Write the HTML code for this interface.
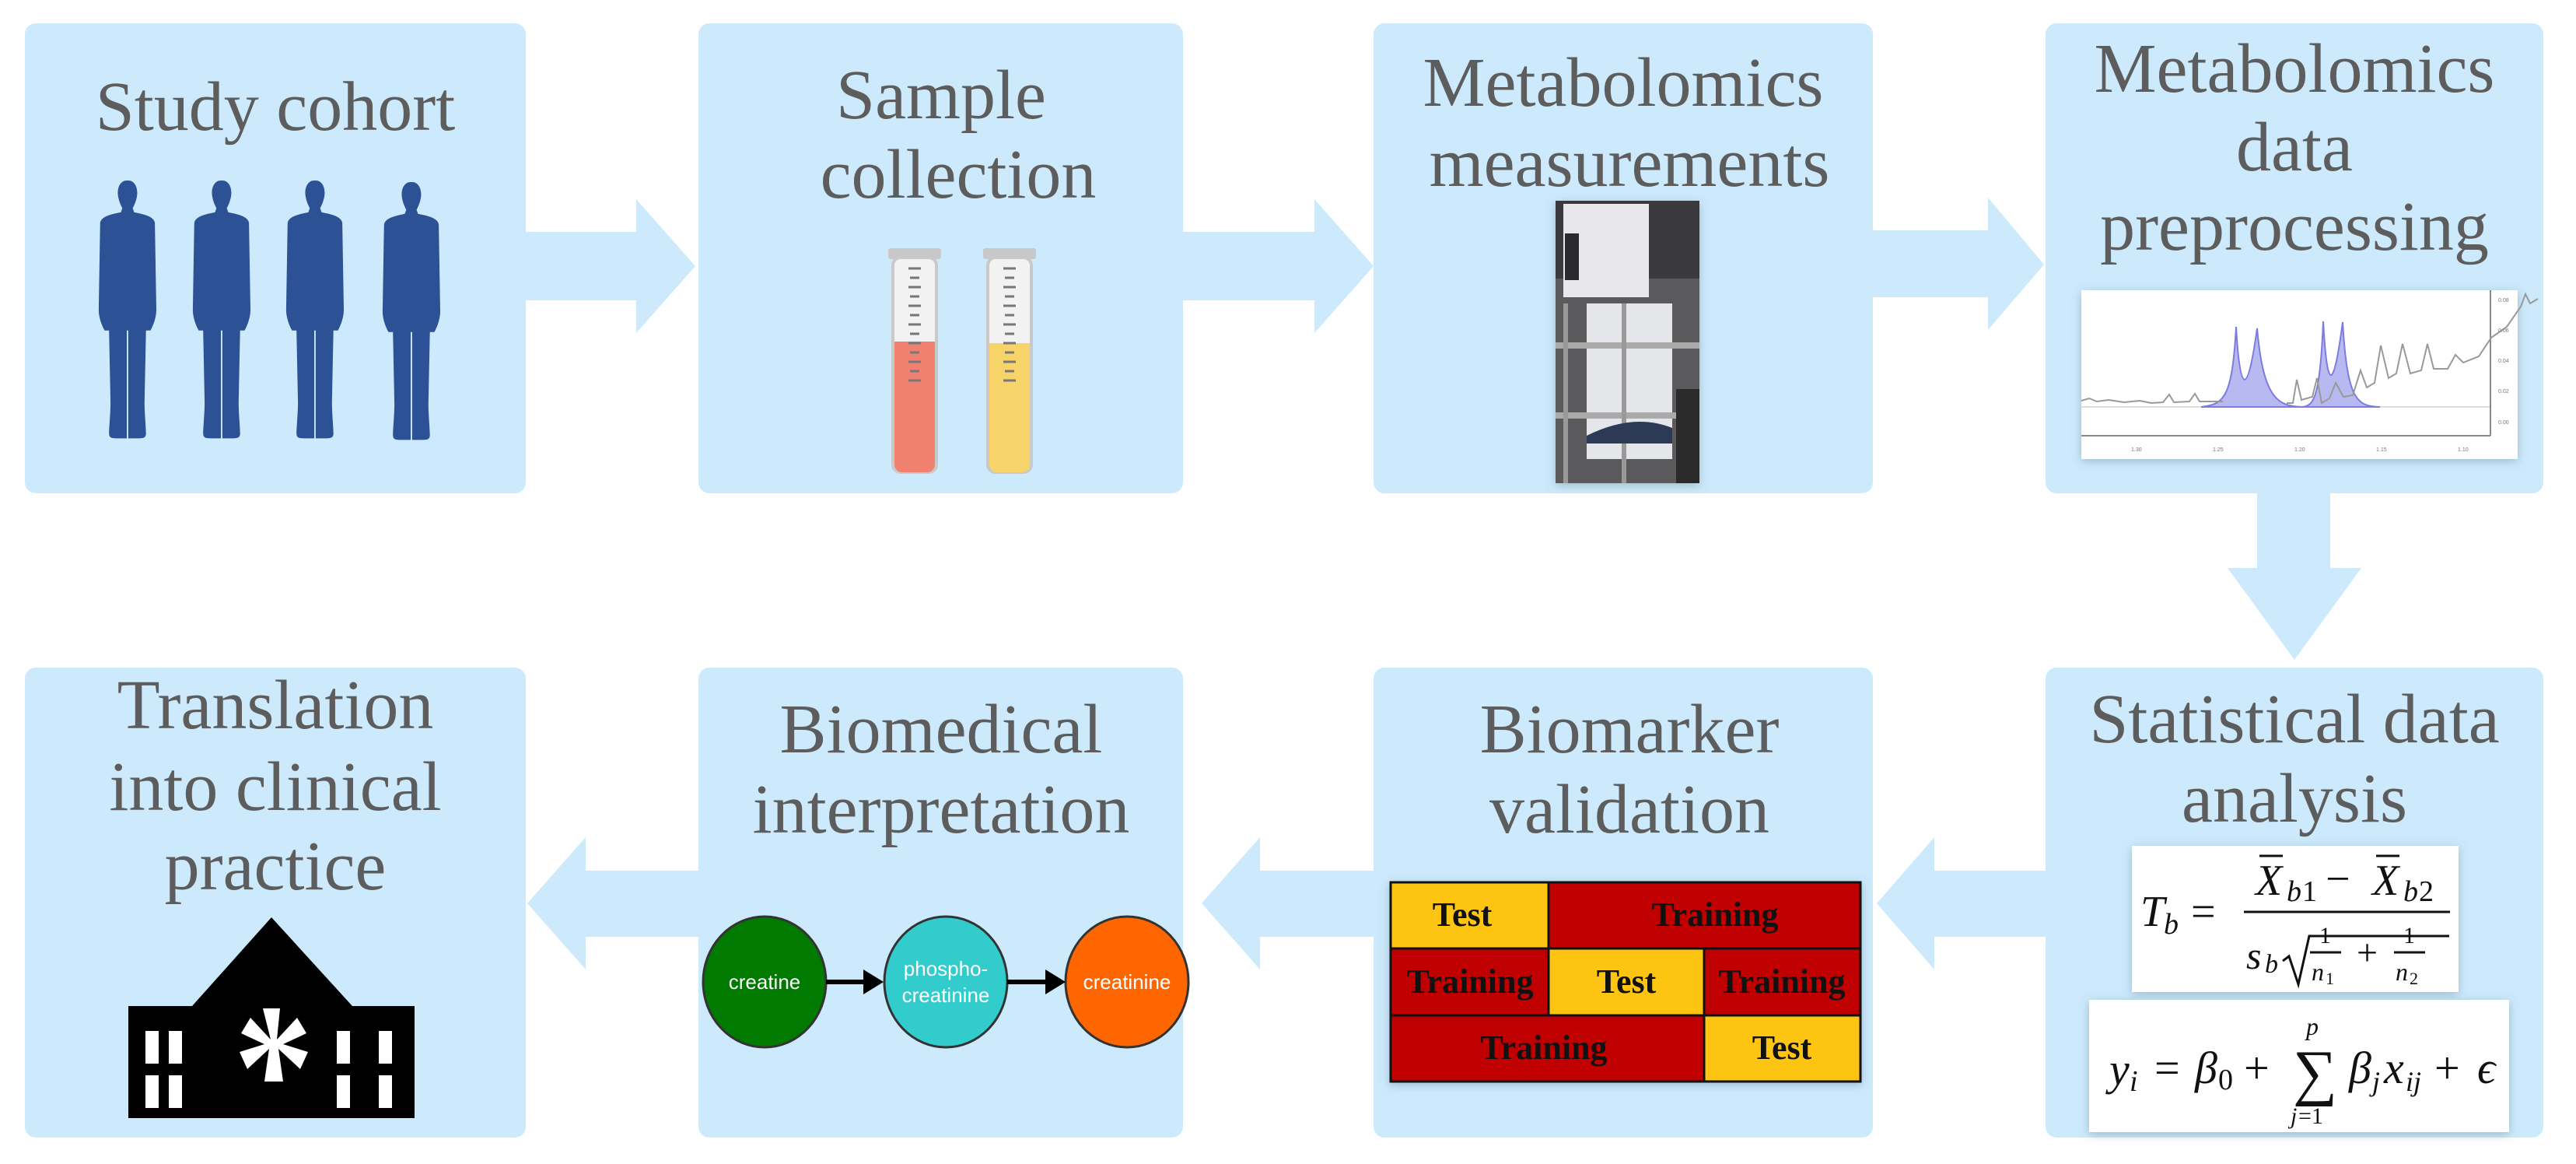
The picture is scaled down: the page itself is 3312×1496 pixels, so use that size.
<!DOCTYPE html>
<html><head><meta charset="utf-8"><style>
html,body{margin:0;padding:0;background:#fff;}
svg{display:block;}
.t{font-family:"Liberation Serif",serif;font-size:90px;fill:#5d5d5d;text-anchor:middle;}
.g{font-family:"Liberation Serif",serif;font-weight:bold;font-size:44px;fill:#111;text-anchor:middle;}
.m{font-family:"Liberation Serif",serif;font-style:italic;fill:#111;}
.c{font-family:"Liberation Sans",sans-serif;font-size:26px;fill:#fff;text-anchor:middle;}
</style></head><body>
<svg width="3312" height="1496" viewBox="0 0 3312 1496" xmlns="http://www.w3.org/2000/svg">
<defs>
<filter id="sh" x="-10%" y="-10%" width="120%" height="120%"><feDropShadow dx="0" dy="3" stdDeviation="6" flood-color="#6a8aa0" flood-opacity="0.5"/></filter>
<g id="person"><path d="M0,0 c-8,0 -13,12 -12,28 c1,12 4,20 6,26 l-2,8 c-14,4 -26,8 -28,20 l-2,170 c0,14 4,30 8,40 l6,0 l2,140 c0,20 -2,50 -2,60 c0,10 4,10 12,10 l12,0 l0,-210 l2,0 l0,210 l12,0 c8,0 12,0 12,-10 c0,-10 -2,-40 -2,-60 l2,-140 l6,0 c4,-10 8,-26 8,-40 l-2,-170 c-2,-12 -14,-16 -28,-20 l-2,-8 c2,-6 5,-14 6,-26 c1,-16 -4,-28 -12,-28 z" fill="#2c5194"/></g>
</defs>
<g fill="#cceafc">
<rect x="32" y="30" width="644" height="604" rx="14"/>
<rect x="898" y="30" width="623" height="604" rx="14"/>
<rect x="1766" y="30" width="642" height="604" rx="14"/>
<rect x="2630" y="30" width="640" height="604" rx="14"/>
<rect x="32" y="858" width="644" height="604" rx="14"/>
<rect x="898" y="858" width="623" height="604" rx="14"/>
<rect x="1766" y="858" width="642" height="604" rx="14"/>
<rect x="2630" y="858" width="640" height="604" rx="14"/>
<polygon points="676,298 818,298 818,256 894,342 818,428 818,386 676,386"/>
<polygon points="1521,298 1690,298 1690,256 1766,342 1690,428 1690,386 1521,386"/>
<polygon points="2408,296 2556,296 2556,254 2628,340 2556,424 2556,382 2408,382"/>
<polygon points="2902,634 2996,634 2996,730 3036,730 2950,848 2864,730 2902,730"/>
<polygon points="898,1119 753,1119 753,1076 678,1161 753,1246 753,1204 898,1204"/>
<polygon points="1766,1119 1620,1119 1620,1076 1545,1161 1620,1246 1620,1204 1766,1204"/>
<polygon points="2630,1119 2487,1119 2487,1076 2413,1161 2487,1246 2487,1204 2630,1204"/>
</g>
<text class="t" x="354" y="167">Study cohort</text>
<text class="t" x="1210" y="152">Sample</text>
<text class="t" x="1232" y="254">collection</text>
<text class="t" x="2087" y="136">Metabolomics</text>
<text class="t" x="2095" y="239">measurements</text>
<text class="t" x="2950" y="118">Metabolomics</text>
<text class="t" x="2950" y="219">data</text>
<text class="t" x="2950" y="321">preprocessing</text>
<text class="t" x="354" y="936">Translation</text>
<text class="t" x="354" y="1041">into clinical</text>
<text class="t" x="354" y="1143">practice</text>
<text class="t" x="1210" y="967">Biomedical</text>
<text class="t" x="1210" y="1070">interpretation</text>
<text class="t" x="2095" y="967">Biomarker</text>
<text class="t" x="2095" y="1070">validation</text>
<text class="t" x="2950" y="954">Statistical data</text>
<text class="t" x="2950" y="1056">analysis</text>
<use href="#person" transform="translate(163,232) scale(0.95,0.66)"/>
<use href="#person" transform="translate(284,232) scale(0.95,0.66)"/>
<use href="#person" transform="translate(404,232) scale(0.95,0.66)"/>
<use href="#person" transform="translate(528,234) scale(0.95,0.66)"/>
<g>
<rect x="1142" y="319" width="68" height="14" rx="3" fill="#c8c8c8"/>
<rect x="1148" y="331" width="56" height="276" rx="10" fill="#f2f2f2" stroke="#c9c9c9" stroke-width="4"/>
<path d="M1150,439 h52 v158 a10,10 0 0 1 -10,10 h-32 a10,10 0 0 1 -10,-10 z" fill="#f08070"/>
<rect x="1264" y="319" width="68" height="14" rx="3" fill="#c8c8c8"/>
<rect x="1270" y="331" width="56" height="276" rx="10" fill="#f2f2f2" stroke="#c9c9c9" stroke-width="4"/>
<path d="M1272,441 h52 v156 a10,10 0 0 1 -10,10 h-32 a10,10 0 0 1 -10,-10 z" fill="#f7d46a"/>
<g stroke="#777" stroke-width="3">
<path d="M1168,345h16M1170,357h12M1168,369h16M1170,381h12M1168,393h16M1170,405h12M1168,417h16M1170,429h12M1168,441h16M1170,453h12M1168,465h16M1170,477h12M1168,489h16"/>
<path d="M1290,345h16M1292,357h12M1290,369h16M1292,381h12M1290,393h16M1292,405h12M1290,417h16M1292,429h12M1290,441h16M1292,453h12M1290,465h16M1292,477h12M1290,489h16"/>
</g>
</g>
<g filter="url(#sh)">
<rect x="2000" y="258" width="185" height="363" fill="#5a5a5c"/>
</g>
<rect x="2000" y="258" width="185" height="100" fill="#3a3a3e"/>
<rect x="2010" y="262" width="110" height="120" fill="#e8e8ea"/>
<rect x="2012" y="300" width="18" height="60" fill="#2a2a30"/>
<rect x="2040" y="390" width="110" height="200" fill="#e4e6ea"/>
<rect x="2000" y="440" width="185" height="8" fill="#aaa"/>
<rect x="2000" y="530" width="185" height="8" fill="#aaa"/>
<rect x="2010" y="390" width="6" height="231" fill="#999"/>
<rect x="2085" y="390" width="6" height="231" fill="#999"/>
<path d="M2040,560 q60,-30 110,-10 v20 h-110 z" fill="#2c3a55"/>
<rect x="2155" y="500" width="30" height="121" fill="#2a2a2a"/>
<rect x="2676" y="373" width="561" height="217" fill="#fff" filter="url(#sh)"/>
<line x1="2676" y1="523" x2="3202" y2="523" stroke="#ddd" stroke-width="2"/>
<line x1="2676" y1="560" x2="3202" y2="560" stroke="#888" stroke-width="2"/>
<line x1="3202" y1="373" x2="3202" y2="560" stroke="#888" stroke-width="2"/>
<path d="M2830,523 C2860,520 2870,510 2875,420 C2880,510 2890,510 2902,422 C2910,515 2930,522 2960,523 C2975,522 2983,510 2987,413 C2992,505 3000,505 3012,414 C3018,515 3030,522 3060,523 Z" fill="#b9b9f2" stroke="#7b7be0" stroke-width="2"/>
<path d="M2676,515 l10,-3 l10,4 l15,-2 l20,3 l20,-2 l15,3 l15,-1 l8,-10 l6,10 l20,-1 l7,-10 l6,10 l30,0 M2940,518 l8,0 l5,-30 l6,26 l14,-4 l6,-24 l6,32 l10,-6 l8,-20 l10,18 l12,-2 l10,-32 l8,22 l10,-6 l8,-48 l10,42 l10,-6 l8,-38 l10,38 l14,-4 l8,-34 l8,32 l18,0 l10,-18 l10,10 l20,-8 l16,-24 l20,-14 l18,-26 l6,-16 l6,12 l10,-6" fill="none" stroke="#999" stroke-width="2"/>
<g font-family="Liberation Sans" font-size="7" fill="#777">
<text x="3212" y="388">0.08</text><text x="3212" y="427">0.06</text><text x="3212" y="466">0.04</text><text x="3212" y="505">0.02</text><text x="3212" y="545">0.00</text>
<text x="2740" y="580">1.30</text><text x="2845" y="580">1.25</text><text x="2950" y="580">1.20</text><text x="3055" y="580">1.15</text><text x="3160" y="580">1.10</text>
</g>
<polygon points="349,1179 453,1293 247,1293" fill="#000"/>
<rect x="165" y="1293" width="368" height="144" fill="#000"/>
<g fill="#fff">
<rect x="187" y="1325" width="17" height="42"/><rect x="217" y="1325" width="17" height="42"/>
<rect x="187" y="1382" width="17" height="42"/><rect x="217" y="1382" width="17" height="42"/>
<rect x="433" y="1325" width="17" height="42"/><rect x="487" y="1325" width="17" height="42"/>
<rect x="433" y="1382" width="17" height="42"/><rect x="487" y="1382" width="17" height="42"/>
<path d="M338,1296 h22 l-4,40 l26,-28 l12,20 l-30,14 l32,10 l-10,22 l-28,-26 l6,42 h-24 l6,-42 l-28,26 l-10,-22 l32,-10 l-30,-14 l12,-20 l26,28 z"/>
</g>
<ellipse cx="983" cy="1262" rx="79" ry="84" fill="#007a00" stroke="#333" stroke-width="3"/>
<ellipse cx="1216" cy="1262" rx="79" ry="84" fill="#33cccc" stroke="#333" stroke-width="3"/>
<ellipse cx="1449" cy="1262" rx="79" ry="84" fill="#ff6600" stroke="#333" stroke-width="3"/>
<g stroke="#000" stroke-width="6"><line x1="1062" y1="1262" x2="1118" y2="1262"/><line x1="1295" y1="1262" x2="1352" y2="1262"/></g>
<polygon points="1110,1246 1136,1262 1110,1278" fill="#000"/>
<polygon points="1344,1246 1370,1262 1344,1278" fill="#000"/>
<text class="c" x="983" y="1271">creatine</text>
<text class="c" x="1216" y="1254">phospho-</text>
<text class="c" x="1216" y="1288">creatinine</text>
<text class="c" x="1449" y="1271">creatinine</text>
<g stroke="#111" stroke-width="3" filter="url(#sh)">
<rect x="1788" y="1134" width="604" height="256" fill="#c00000"/>
</g>
<g stroke="#111" stroke-width="3">
<rect x="1788" y="1134" width="203" height="85" fill="#fdc511"/>
<rect x="1991" y="1134" width="401" height="85" fill="#c00000"/>
<rect x="1788" y="1219" width="203" height="86" fill="#c00000"/>
<rect x="1991" y="1219" width="200" height="86" fill="#fdc511"/>
<rect x="2191" y="1219" width="201" height="86" fill="#c00000"/>
<rect x="1788" y="1305" width="403" height="85" fill="#c00000"/>
<rect x="2191" y="1305" width="201" height="85" fill="#fdc511"/>
</g>
<text class="g" x="1880" y="1190">Test</text>
<text class="g" x="2205" y="1190">Training</text>
<text class="g" x="1890" y="1276">Training</text>
<text class="g" x="2091" y="1276">Test</text>
<text class="g" x="2291" y="1276">Training</text>
<text class="g" x="1985" y="1361">Training</text>
<text class="g" x="2291" y="1361">Test</text>
<rect x="2741" y="1087" width="420" height="188" fill="#fff" filter="url(#sh)"/>
<rect x="2686" y="1285" width="540" height="170" fill="#fff" filter="url(#sh)"/>
<g class="m">
<text x="2752" y="1190" font-size="56">T</text><text x="2782" y="1200" font-size="38">b</text>
<text x="2817" y="1190" font-size="56" font-style="normal">=</text>
<text x="2900" y="1150" font-size="56">X</text><text x="2940" y="1158" font-size="38">b</text><text x="2960" y="1158" font-size="38" font-style="normal">1</text>
<text x="2990" y="1148" font-size="56" font-style="normal">−</text>
<text x="3050" y="1150" font-size="56">X</text><text x="3090" y="1158" font-size="38">b</text><text x="3110" y="1158" font-size="38" font-style="normal">2</text>
<text x="2888" y="1245" font-size="50">s</text><text x="2912" y="1250" font-size="34">b</text>
<text x="2982" y="1212" font-size="30" font-style="normal">1</text><text x="2972" y="1260" font-size="32">n</text><text x="2990" y="1265" font-size="22" font-style="normal">1</text>
<text x="3030" y="1240" font-size="48" font-style="normal">+</text>
<text x="3090" y="1212" font-size="30" font-style="normal">1</text><text x="3080" y="1260" font-size="32">n</text><text x="3098" y="1265" font-size="22" font-style="normal">2</text>
<text x="2712" y="1394" font-size="58">y</text><text x="2738" y="1402" font-size="38">i</text>
<text x="2770" y="1392" font-size="58" font-style="normal">=</text>
<text x="2822" y="1392" font-size="58">β</text><text x="2852" y="1400" font-size="38" font-style="normal">0</text>
<text x="2885" y="1392" font-size="58" font-style="normal">+</text>
<text x="2948" y="1405" font-size="80" font-style="normal">∑</text>
<text x="2965" y="1330" font-size="32">p</text>
<text x="2945" y="1444" font-size="30">j</text><text x="2955" y="1444" font-size="30" font-style="normal">=1</text>
<text x="3020" y="1392" font-size="58">β</text><text x="3050" y="1402" font-size="36">j</text>
<text x="3065" y="1392" font-size="58">x</text><text x="3093" y="1402" font-size="36">ij</text>
<text x="3130" y="1392" font-size="58" font-style="normal">+</text>
<text x="3185" y="1392" font-size="58">ϵ</text>
</g>
<g stroke="#111" stroke-width="3" fill="none">
<line x1="2905" y1="1100" x2="2935" y2="1100"/><line x1="3055" y1="1100" x2="3085" y2="1100"/>
<line x1="2885" y1="1172" x2="3150" y2="1172"/>
<path d="M2935,1235 l8,-6 l12,36 l14,-62 h180"/>
<line x1="2970" y1="1224" x2="3010" y2="1224"/><line x1="3078" y1="1224" x2="3118" y2="1224"/>
</g>
</svg>
</body></html>
